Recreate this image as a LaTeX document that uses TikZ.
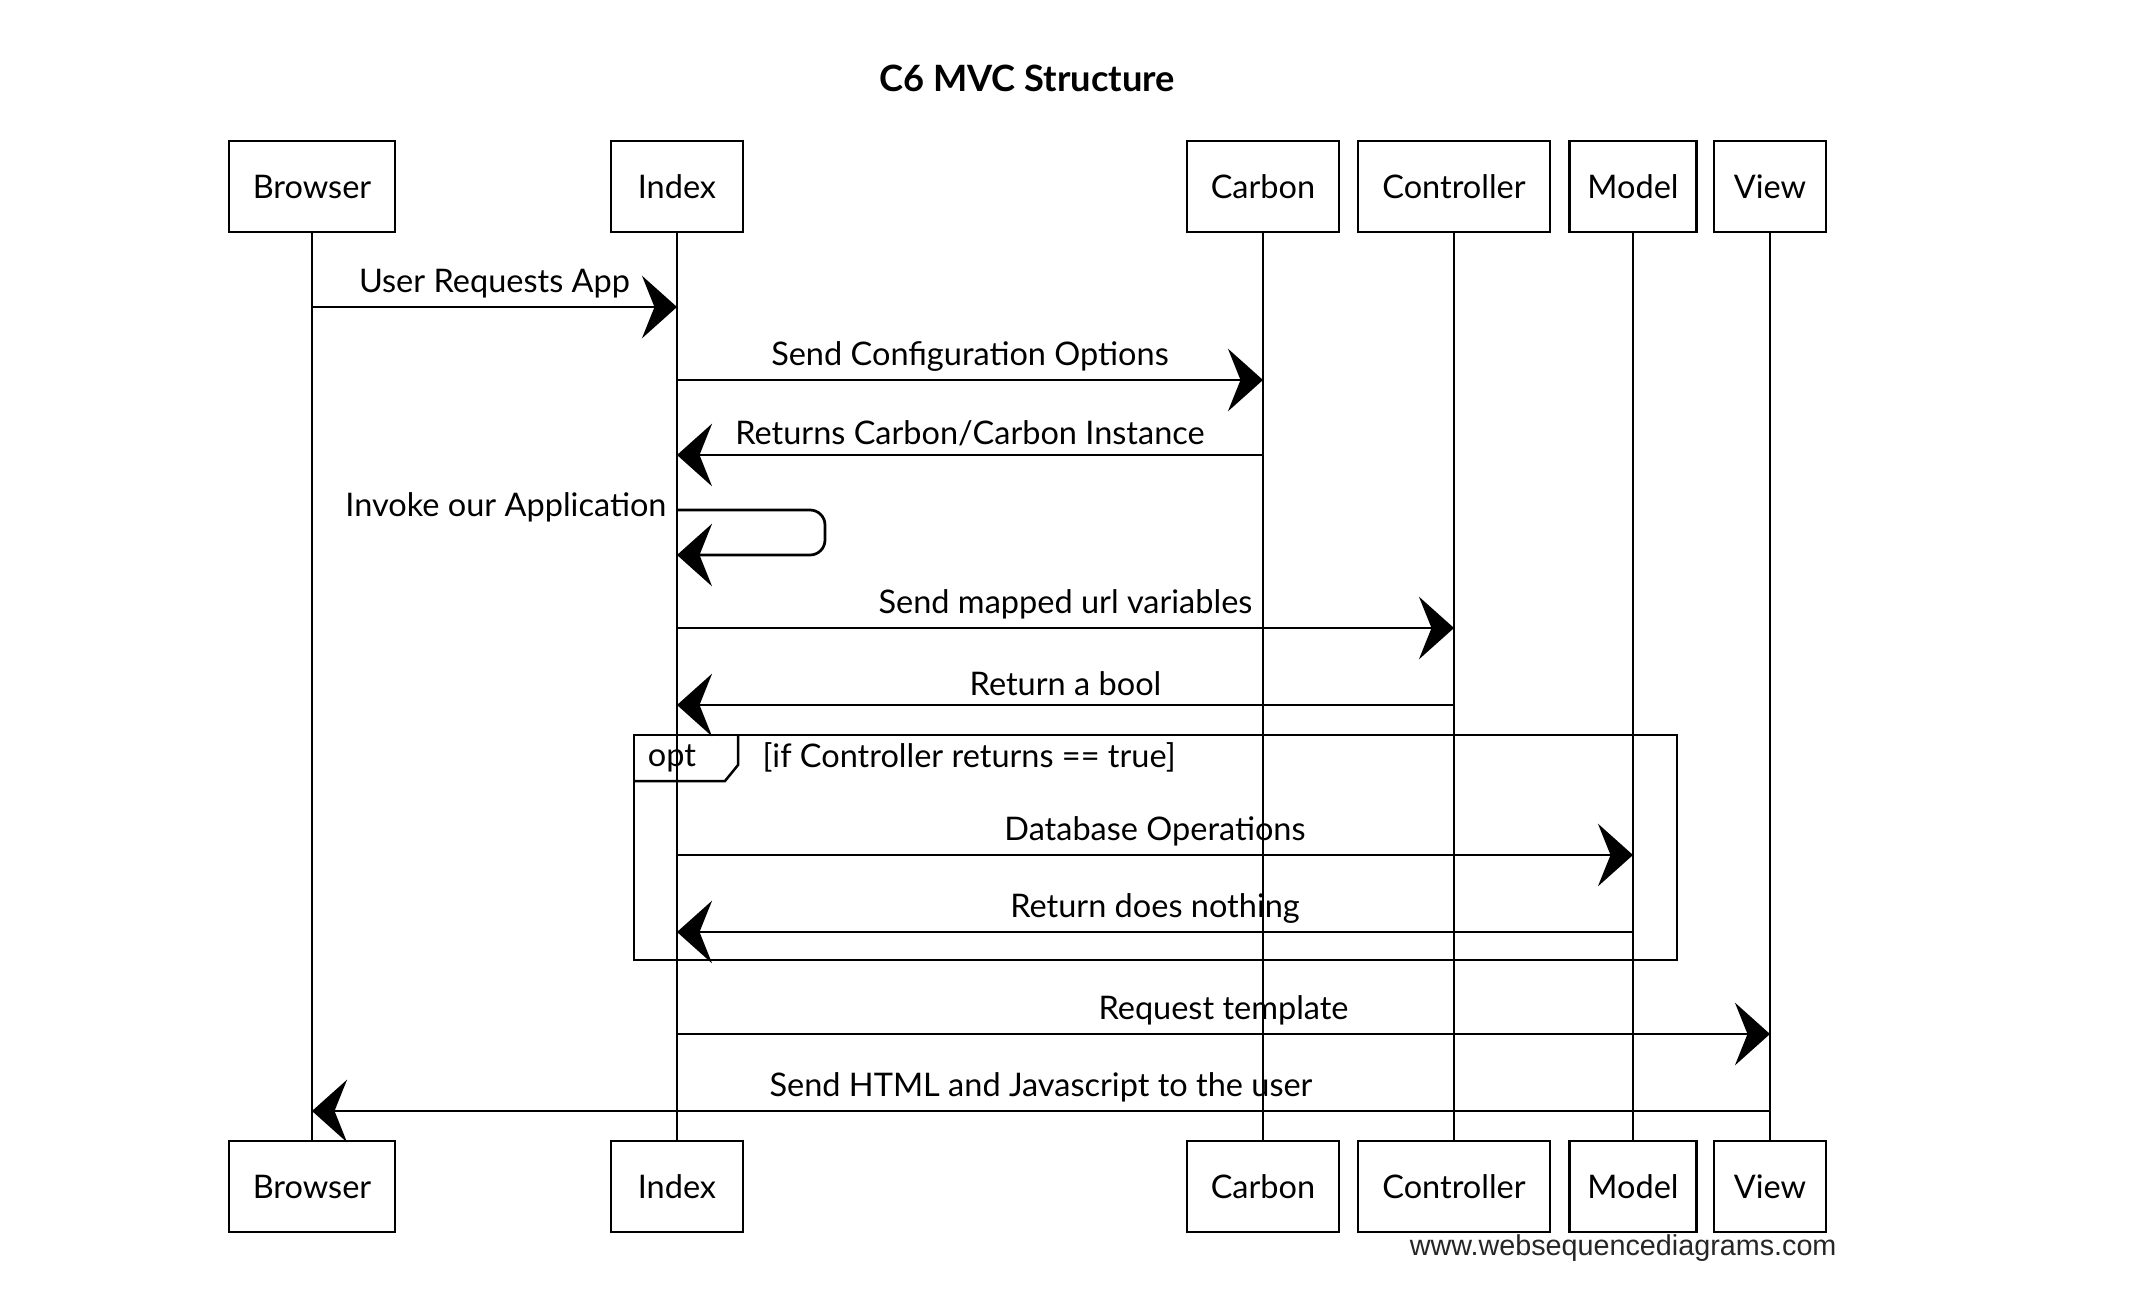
\documentclass[tikz,border=0pt]{standalone}
\usepackage{fontspec}
\setmainfont{Lato}
\newfontfamily\footfont{Liberation Sans}
\usetikzlibrary{arrows.meta}
\begin{document}
\begin{tikzpicture}[x=0.4pt,y=-0.4pt,
  actor/.style={draw, line width=1.1pt, minimum height=36.4pt, inner sep=0pt, font=\fontsize{13}{15}\selectfont},
  life/.style={line width=0.7pt},
  msg/.style={line width=1.1pt, -{Stealth[length=14pt,width=25pt,inset=5pt]}},
  lbl/.style={above=3pt, inner sep=0pt, font=\fontsize{13}{15}\selectfont},
  frame/.style={line width=1pt},
  plain/.style={inner sep=0pt, font=\fontsize{13}{15}\selectfont}]
\useasboundingbox (0,0) rectangle (2142,1308);
\node[plain, font=\fontsize{14.5}{17}\selectfont\bfseries] (title) at (1027,78) {C6 MVC Structure};
% actors top
\node[actor, minimum width=66.4pt] (b1) at (312,186.5) {Browser};
\node[actor, minimum width=52.8pt] (i1) at (677,186.5) {Index};
\node[actor, minimum width=60.8pt] (c1) at (1263,186.5) {Carbon};
\node[actor, minimum width=76.8pt] (t1) at (1454,186.5) {Controller};
\node[actor, minimum width=50.8pt] (m1) at (1633,186.5) {Model};
\node[actor, minimum width=44.8pt] (v1) at (1770,186.5) {View};
% actors bottom
\node[actor, minimum width=66.4pt] (b2) at (312,1186.5) {Browser};
\node[actor, minimum width=52.8pt] (i2) at (677,1186.5) {Index};
\node[actor, minimum width=60.8pt] (c2) at (1263,1186.5) {Carbon};
\node[actor, minimum width=76.8pt] (t2) at (1454,1186.5) {Controller};
\node[actor, minimum width=50.8pt] (m2) at (1633,1186.5) {Model};
\node[actor, minimum width=44.8pt] (v2) at (1770,1186.5) {View};
% lifelines
\draw[life] (b1.south) -- (b2.north);
\draw[life] (i1.south) -- (i2.north);
\draw[life] (c1.south) -- (c2.north);
\draw[life] (t1.south) -- (t2.north);
\draw[life] (m1.south) -- (m2.north);
\draw[life] (v1.south) -- (v2.north);
% message points
\coordinate (a1s) at (312,307);  \coordinate (a1e) at (677,307);
\coordinate (a2s) at (677,380);  \coordinate (a2e) at (1263,380);
\coordinate (a3s) at (1263,455); \coordinate (a3e) at (677,455);
\coordinate (s1)  at (677,510);  \coordinate (s2)  at (677,555);
\coordinate (a5s) at (677,628);  \coordinate (a5e) at (1454,628);
\coordinate (a6s) at (1454,705); \coordinate (a6e) at (677,705);
\coordinate (a7s) at (677,855);  \coordinate (a7e) at (1633,855);
\coordinate (a8s) at (1633,932); \coordinate (a8e) at (677,932);
\coordinate (a9s) at (677,1034); \coordinate (a9e) at (1770,1034);
\coordinate (a10s) at (1770,1111); \coordinate (a10e) at (312,1111);
% messages
\draw[msg] (a1s) -- node[lbl] (l1) {User Requests App} (a1e);
\draw[msg] (a2s) -- node[lbl] (l2) {Send Configuration Options} (a2e);
\draw[msg] (a3s) -- node[lbl] (l3) {Returns Carbon/Carbon Instance} (a3e);
\draw[msg, rounded corners=6pt] (s1) -- (825,510) -- (825,555) -- (s2);
\node[plain, anchor=east] (l4) at (667,507) {Invoke our Application};
\draw[msg] (a5s) -- node[lbl] (l5) {Send mapped url variables} (a5e);
\draw[msg] (a6s) -- node[lbl] (l6) {Return a bool} (a6e);
% opt frame
\draw[frame] (634,735) rectangle (1677,960);
\draw[frame] (634,781) -- (725,781) -- (738,765) -- (738,735);
\node[plain] (opt) at (672,758) {opt};
\node[plain, anchor=west] (guard) at (762,757) {[if Controller returns == true]};
\draw[msg] (a7s) -- node[lbl] (l7) {Database Operations} (a7e);
\draw[msg] (a8s) -- node[lbl] (l8) {Return does nothing} (a8e);
\draw[msg] (a9s) -- node[lbl] (l9) {Request template} (a9e);
\draw[msg] (a10s) -- node[lbl] (l10) {Send HTML and Javascript to the user} (a10e);
% footer
\node[plain, anchor=east, font=\footfont\fontsize{11.5}{13}\selectfont, text=black!85] (foot) at (1837,1248) {www.websequencediagrams.com};
\end{tikzpicture}
\end{document}
